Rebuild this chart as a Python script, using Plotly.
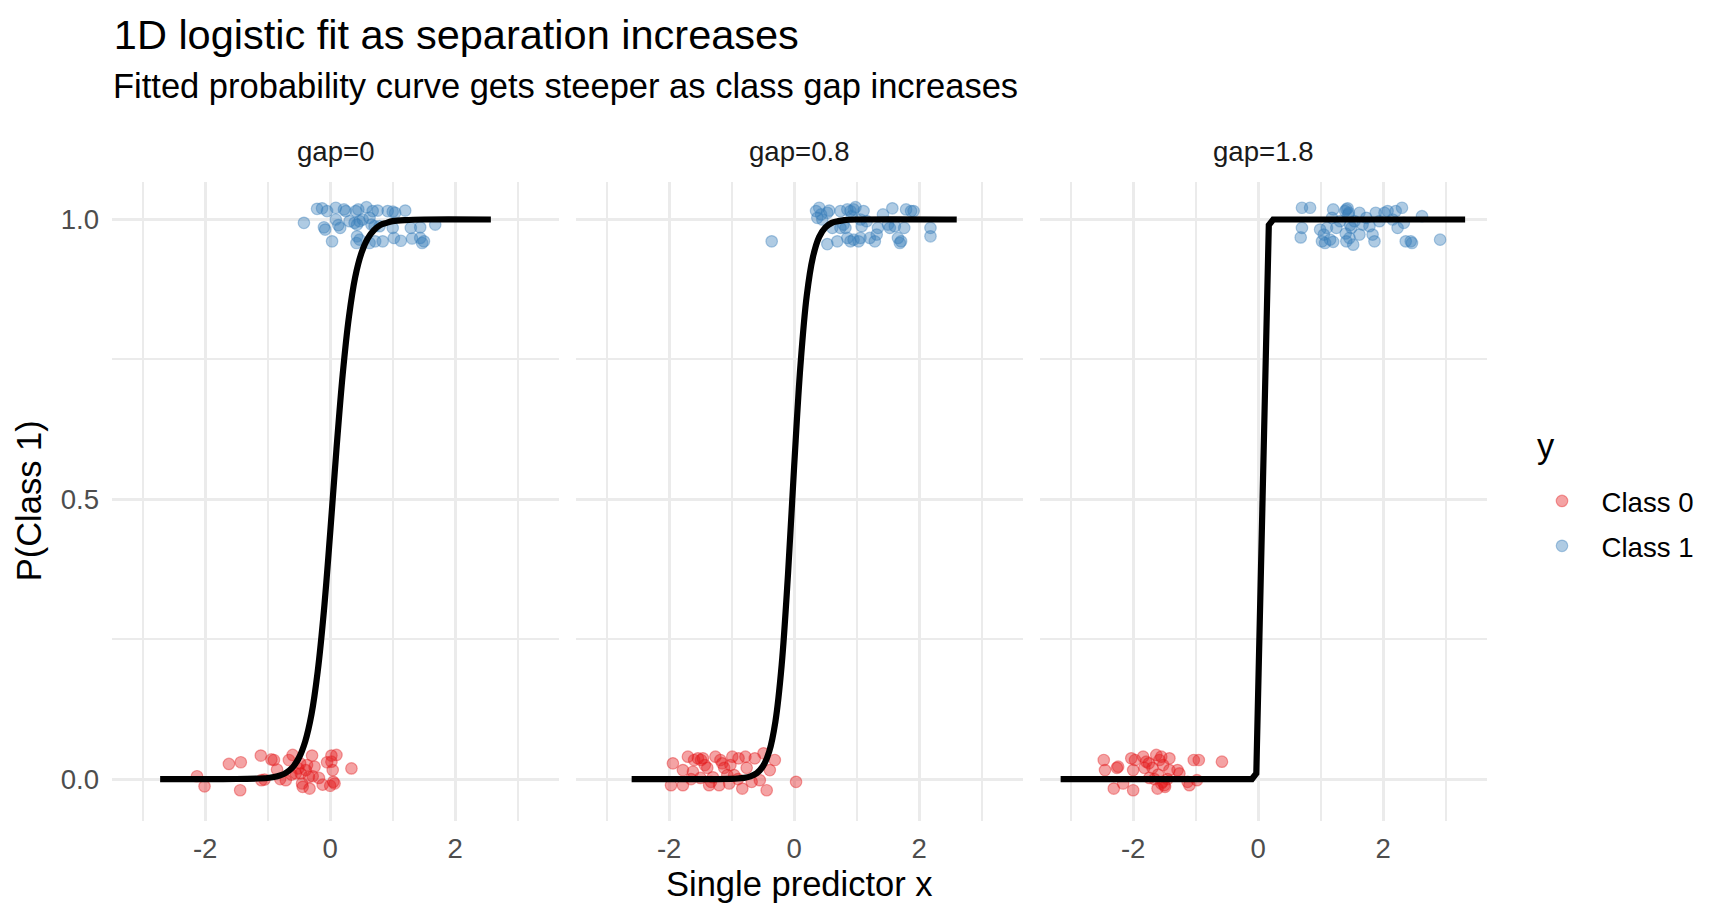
import plotly.graph_objects as go

# --- Data (one list per panel / class) ---
gap_labels = ["gap=0", "gap=0.8", "gap=1.8"]
class_names = ["Class 0", "Class 1"]

# gap = 0
g0_x0 = [-2.13, -2.01, -1.62, -1.43, -1.44, -1.11, -1.05, -1.10, -0.94, -0.90,
         -0.85, -0.80, -0.71, -0.66, -0.60, -0.55, -0.51, -0.47, -0.45, -0.44,
         -0.39, -0.37, -0.33, -0.29, -0.28, -0.34, -0.18, -0.12, 0.02, 0.02,
         0.04, 0.05, 0.07, 0.10, 0.34, -0.62, -0.25, -0.05, -0.48, 0.00]
g0_y0 = [0.005, -0.013, 0.027, 0.030, -0.020, 0.042, -0.001, -0.002, 0.035, 0.034,
         0.017, 0.000, -0.002, 0.034, 0.043, 0.010, 0.019, 0.010, -0.008, -0.014,
         0.016, 0.025, -0.017, 0.042, 0.005, 0.004, 0.002, -0.010, 0.042, 0.031,
         0.016, -0.005, -0.008, 0.043, 0.019, 0.008, 0.022, 0.030, 0.028, -0.012]
g0_x1 = [-0.21, -0.13, -0.05, 0.09, 0.22, 0.25, 0.41, 0.45, 0.58, 0.68,
         0.76, 0.92, 1.00, 1.04, 1.20, -0.42, -0.10, -0.08, 0.09, 0.13,
         0.16, 0.31, 0.39, 0.43, 0.47, 0.52, 0.63, 0.66, 0.71, 0.79,
         1.00, 1.29, 1.44, 1.68, 0.03, 0.43, 0.42, 0.47, 0.63, 0.72,
         0.84, 1.02, 1.13, 1.31, 1.44, 1.47, 1.50]
g0_y1 = [1.019, 1.020, 1.015, 1.021, 1.018, 1.015, 1.015, 1.018, 1.022, 1.015,
         1.016, 1.015, 1.014, 1.012, 1.016, 0.994, 0.986, 0.982, 1.000, 0.990,
         0.985, 0.997, 0.994, 0.991, 0.997, 1.000, 1.003, 0.991, 0.988, 0.988,
         0.985, 0.985, 0.986, 0.991, 0.961, 0.970, 0.958, 0.964, 0.958, 0.961,
         0.961, 0.967, 0.962, 0.966, 0.967, 0.958, 0.961]

# gap = 0.8
g1_x0 = [-1.94, -1.97, -1.78, -1.78, -1.70, -1.62, -1.60, -1.54, -1.49, -1.46,
         -1.43, -1.39, -1.36, -1.33, -1.26, -1.20, -1.18, -1.15, -1.12, -1.07,
         -1.04, -1.02, -0.99, -0.96, -0.89, -0.83, -0.78, -0.76, -0.68, -0.63,
         -0.55, -0.49, -0.44, -0.39, -0.31, 0.03, -1.50, -1.30, -0.90, -1.65]
g1_y0 = [0.028, -0.011, -0.011, 0.016, 0.040, 0.013, 0.034, 0.037, 0.034, 0.037,
         0.025, 0.020, -0.011, -0.005, 0.040, -0.011, 0.034, 0.028, 0.020, 0.007,
         -0.008, 0.025, 0.040, 0.007, 0.037, -0.017, 0.040, 0.020, -0.005, 0.037,
         -0.002, 0.046, -0.020, 0.016, 0.034, -0.005, 0.002, 0.003, 0.000, 0.000]
g1_x1 = [-0.36, 0.35, 0.40, 0.43, 0.37, 0.45, 0.53, 0.56, 0.74, 0.82,
         0.85, 0.90, 0.95, 0.98, 0.92, 1.06, 1.11, 1.08, 1.16, 0.69,
         0.85, 0.90, 0.95, 1.03, 1.06, 1.21, 1.29, 1.32, 1.34, 1.42,
         1.50, 1.53, 1.57, 1.61, 1.66, 1.69, 1.71, 1.76, 1.79, 1.87,
         1.91, 0.53, 0.61, 0.74, 0.79, 2.18, 2.18]
g1_y1 = [0.961, 1.015, 1.021, 1.009, 1.003, 1.000, 1.012, 1.016, 1.015, 0.985,
         1.018, 1.015, 1.018, 1.022, 1.006, 1.000, 1.015, 0.988, 0.997, 0.961,
         0.967, 0.961, 0.964, 0.961, 0.967, 0.967, 0.961, 0.973, 0.985, 1.009,
         0.991, 0.985, 1.020, 0.988, 0.967, 0.958, 0.961, 0.985, 1.018, 1.015,
         1.015, 0.956, 0.985, 0.985, 0.991, 0.985, 0.970]

# gap = 1.8
g2_x0 = [-2.47, -2.45, -2.31, -2.26, -2.24, -2.16, -2.03, -2.00, -2.00, -1.97,
         -1.84, -1.82, -1.79, -1.69, -1.63, -1.61, -1.58, -1.55, -1.53, -1.50,
         -1.49, -1.45, -1.42, -1.42, -1.29, -1.26, -1.13, -1.10, -1.03, -0.95,
         -0.98, -0.58, -1.66, -1.74, -1.60, -1.55, -1.75, -1.52]
g2_y0 = [0.034, 0.016, -0.017, 0.020, 0.022, -0.008, 0.037, 0.016, -0.020, 0.034,
         0.040, 0.020, 0.031, 0.020, 0.043, -0.017, 0.034, 0.040, -0.005, -0.011,
         -0.014, 0.000, 0.037, 0.016, 0.016, 0.010, -0.005, -0.011, 0.034, 0.034,
         -0.002, 0.031, 0.000, 0.002, 0.008, -0.008, 0.028, 0.025]
g2_x1 = [0.70, 0.83, 0.70, 0.68, 0.99, 1.02, 1.07, 1.15, 1.20, 1.18,
         1.25, 1.31, 1.39, 1.41, 1.44, 1.41, 1.46, 1.49, 1.52, 1.54,
         1.62, 1.62, 1.67, 1.73, 1.78, 1.83, 1.86, 1.94, 2.02, 2.07,
         2.15, 2.23, 2.30, 2.33, 2.36, 2.44, 2.46, 2.62, 2.91, 1.10,
         1.05, 1.88, 2.20, 1.43, 1.45, 1.47, 1.40, 1.20]
g2_y1 = [1.021, 1.021, 0.985, 0.968, 0.982, 0.961, 0.958, 0.964, 1.018, 1.003,
         0.985, 0.997, 1.015, 1.018, 1.009, 0.961, 0.967, 0.985, 0.955, 0.997,
         1.012, 0.973, 0.991, 1.003, 0.988, 0.973, 0.961, 0.997, 1.012, 1.015,
         1.000, 0.985, 1.021, 0.994, 0.961, 0.961, 0.958, 1.006, 0.964, 0.985,
         0.973, 1.012, 1.015, 1.020, 1.012, 0.990, 0.975, 0.960]

# fitted probability curves
curve1_x = [-2.72, -1.5, -1.0, -0.9, -0.8, -0.7, -0.6, -0.5, -0.4, -0.3, -0.2, -0.1, 0.0,
            0.1, 0.2, 0.3, 0.4, 0.5, 0.6, 0.7, 0.8, 0.9, 1.0, 1.2, 1.5, 2.57]
curve1_y = [0.0, 0.0001, 0.0019, 0.0035, 0.0064, 0.0117, 0.021, 0.038, 0.067, 0.115, 0.192,
            0.301, 0.440, 0.589, 0.723, 0.826, 0.897, 0.940, 0.966, 0.981, 0.990, 0.994,
            0.997, 0.999, 1.0, 1.0]
curve2_x = [-2.60, -1.0, -0.9, -0.8, -0.7, -0.6, -0.5, -0.4, -0.3, -0.2, -0.1, 0.0,
            0.1, 0.2, 0.3, 0.4, 0.5, 0.6, 0.7, 0.8, 1.0, 2.60]
curve2_y = [0.0, 0.0004, 0.0009, 0.0021, 0.0047, 0.0103, 0.0228, 0.049, 0.103, 0.204,
            0.364, 0.560, 0.739, 0.863, 0.933, 0.969, 0.986, 0.994, 0.997, 0.999, 1.0, 1.0]
curve3_x = [-3.16, -0.10, -0.03, 0.17, 0.24, 3.31]
curve3_y = [0.0, 0.0, 0.01, 0.99, 1.0, 1.0]

panels = [
    (g0_x0, g0_y0, g0_x1, g0_y1, curve1_x, curve1_y, "spline"),
    (g1_x0, g1_y0, g1_x1, g1_y1, curve2_x, curve2_y, "spline"),
    (g2_x0, g2_y0, g2_x1, g2_y1, curve3_x, curve3_y, "linear"),
]

# Set1 colours with alpha
col0 = "rgba(228,26,28,0.4)"
col1 = "rgba(55,126,184,0.4)"
FONT = "Liberation Sans, Arial, sans-serif"

fig = go.Figure()

axes = [("x", "y"), ("x2", "y2"), ("x3", "y3")]

for i, (x0, y0, x1, y1, cx, cy, shape) in enumerate(panels):
    xa, ya = axes[i]
    fig.add_trace(go.Scatter(
        x=x0, y=y0, mode="markers", name=class_names[0], legendgroup="c0",
        showlegend=(i == 0), xaxis=xa, yaxis=ya,
        marker=dict(size=11.5, color=col0, line=dict(color=col0, width=1.2)),
    ))
    fig.add_trace(go.Scatter(
        x=x1, y=y1, mode="markers", name=class_names[1], legendgroup="c1",
        showlegend=(i == 0), xaxis=xa, yaxis=ya,
        marker=dict(size=11.5, color=col1, line=dict(color=col1, width=1.2)),
    ))
    fig.add_trace(go.Scatter(
        x=cx, y=cy, mode="lines", showlegend=False, xaxis=xa, yaxis=ya,
        line=dict(color="black", width=6.2, shape=shape), hoverinfo="skip",
    ))

# Panel geometry: the page body adds an 8px offset, so the figure is 8px smaller
OFF = 8
W, H = 1728 - OFF, 921 - OFF
ml, mr, mt, mb = 112 - OFF, 241, 182 - OFF, 100
pw = W - ml - mr
ph = H - mt - mb
domains = [[0, 447 / pw], [464 / pw, 911 / pw], [928 / pw, 1.0]]


def px_x(px):
    # window pixel -> paper x
    return (px - 112) / pw


def px_y(py):
    # window pixel -> paper y
    return (821 - py) / ph


grid = "#EBEBEB"
xcommon = dict(
    range=[-3.49, 3.66], tickvals=[-2, 0, 2], ticktext=["-2", "0", "2"],
    showgrid=True, gridcolor=grid, gridwidth=2.6, zeroline=False, showline=False,
    ticks="", ticklabelstandoff=8,
    tickfont=dict(size=27.6, color="#4D4D4D", family=FONT),
    minor=dict(tickvals=[-3, -1, 1, 3], showgrid=True, gridcolor=grid, gridwidth=1.6),
)
ycommon = dict(
    tickvals=[0, 0.5, 1], ticktext=["0.0", "0.5", "1.0"],
    showgrid=True, gridcolor=grid, gridwidth=2.6, zeroline=False, showline=False,
    ticks="", ticklabelstandoff=12,
    tickfont=dict(size=27.6, color="#4D4D4D", family=FONT),
    minor=dict(tickvals=[0.25, 0.75], showgrid=True, gridcolor=grid, gridwidth=1.6),
)

fig.update_layout(
    width=W, height=H,
    margin=dict(l=ml, r=mr, t=mt, b=mb),
    paper_bgcolor="white", plot_bgcolor="white",
    font=dict(family=FONT, color="black"),
    xaxis=dict(domain=domains[0], anchor="y", **xcommon),
    xaxis2=dict(domain=domains[1], anchor="y2", **xcommon),
    xaxis3=dict(domain=domains[2], anchor="y3", **xcommon),
    yaxis=dict(anchor="x", range=[-0.075, 1.067], **ycommon),
    yaxis2=dict(anchor="x2", matches="y", showticklabels=False, **ycommon),
    yaxis3=dict(anchor="x3", matches="y", showticklabels=False, **ycommon),
    title=dict(
        text="1D logistic fit as separation increases",
        x=(113.8 - OFF) / W, xanchor="left", xref="container",
        y=1 - (34.5 - OFF) / H, yanchor="middle", yref="container",
        font=dict(size=41.5, color="black", family=FONT),
    ),
    legend=dict(
        font=dict(size=27.6, family=FONT),
        x=px_x(1522.5), xanchor="left", y=px_y(476.5), yanchor="top",
        itemwidth=69, tracegroupgap=6, bgcolor="rgba(0,0,0,0)",
    ),
)

annotations = [
    dict(text="Fitted probability curve gets steeper as class gap increases",
         xref="paper", yref="paper", x=px_x(110.5), y=px_y(86.2),
         xanchor="left", yanchor="middle", showarrow=False,
         font=dict(size=34.5, color="black", family=FONT)),
    dict(text="Single predictor x", xref="paper", yref="paper", x=0.5, y=px_y(884),
         xanchor="center", yanchor="middle", showarrow=False,
         font=dict(size=34.5, color="black", family=FONT)),
    dict(text="P(Class 1)", xref="paper", yref="paper", x=px_x(28.5), y=0.501,
         xanchor="center", yanchor="middle", textangle=-90, showarrow=False,
         font=dict(size=34.5, color="black", family=FONT)),
    # legend title
    dict(text="y", xref="paper", yref="paper", x=px_x(1534.6), y=px_y(446),
         xanchor="left", yanchor="middle", showarrow=False,
         font=dict(size=34.5, color="black", family=FONT)),
]
for i, lab in enumerate(gap_labels):
    xa = axes[i][0]
    annotations.append(dict(
        text=lab, xref=f"{xa} domain", yref="paper", x=0.5, y=px_y(151.3),
        xanchor="center", yanchor="middle", showarrow=False,
        font=dict(size=27.6, color="#1A1A1A", family=FONT),
    ))
fig.update_layout(annotations=annotations)

fig.write_html("out.html")
